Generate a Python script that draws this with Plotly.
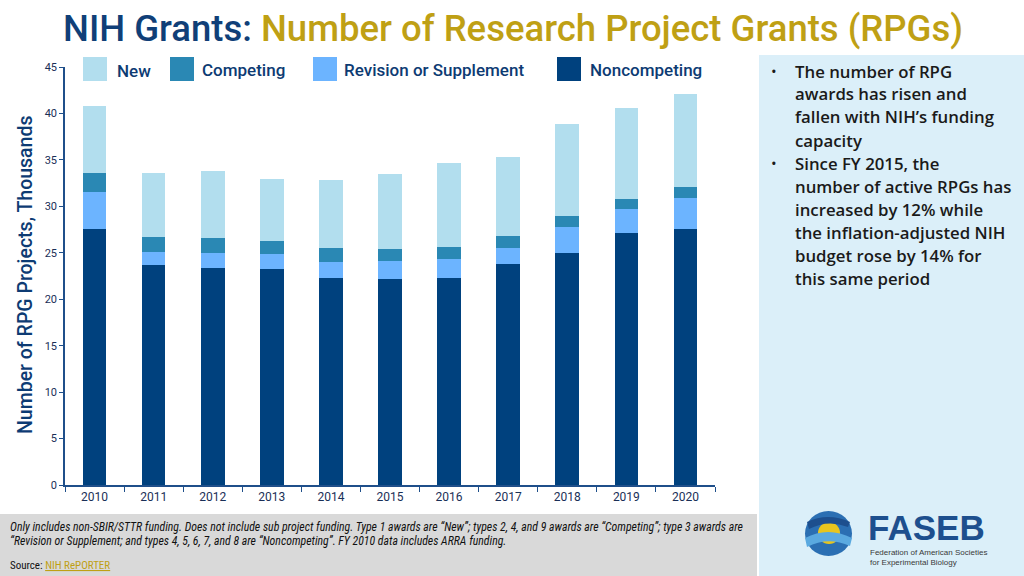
import plotly.graph_objects as go

years = ["2010", "2011", "2012", "2013", "2014", "2015", "2016", "2017", "2018", "2019", "2020"]
noncompeting = [27.6, 23.7, 23.4, 23.25, 22.25, 22.2, 22.3, 23.8, 25.0, 27.1, 27.6]
revision = [3.9, 1.4, 1.6, 1.65, 1.75, 1.9, 2.0, 1.75, 2.75, 2.65, 3.25]
competing = [2.1, 1.6, 1.6, 1.4, 1.5, 1.35, 1.35, 1.25, 1.2, 1.05, 1.25]
new = [7.2, 6.9, 7.2, 6.6, 7.3, 8.05, 9.0, 8.55, 9.9, 9.8, 10.0]

series_names = ["Noncompeting", "Revision or Supplement", "Competing", "New"]
series_vals = [noncompeting, revision, competing, new]
series_colors = ["#00417e", "#6cb4ff", "#2a88b4", "#b2deee"]

W, H = 1024, 576
L, R, T, B = 65, 715, 67, 485

def px(x):
    return (x - L) / (R - L)

def py(y):
    return (B - y) / (B - T)

fig = go.Figure()
for name, vals, col in zip(series_names, series_vals, series_colors):
    fig.add_trace(go.Bar(x=years, y=vals, name=name, marker=dict(color=col, line=dict(width=0)),
                         width=0.4, showlegend=False))

shapes = []
annotations = []

# right panel and footer
shapes.append(dict(type="rect", xref="paper", yref="paper", x0=px(759), x1=px(1030), y0=py(55), y1=py(580),
                   fillcolor="#dbeff9", line=dict(width=0), layer="below"))
shapes.append(dict(type="rect", xref="paper", yref="paper", x0=px(-5), x1=px(757), y0=py(514), y1=py(580),
                   fillcolor="#d9d9d9", line=dict(width=0), layer="below"))

# title
annotations.append(dict(xref="paper", yref="paper", x=px(61), y=py(28), xanchor="left", yanchor="middle",
                        showarrow=False,
                        text="<span style='color:#103f78'>NIH Grants:</span> <span style='color:#bfa014'>Number of Research Project Grants (RPGs)</span>",
                        font=dict(family="Roboto", size=36.5, weight=500)))

# legend (manual)
leg = [("New", "#b2deee", 83, 115), ("Competing", "#2a88b4", 170, 200),
       ("Revision or Supplement", "#6cb4ff", 313, 342), ("Noncompeting", "#00417e", 557, 588)]
for lab, col, x0, tx in leg:
    shapes.append(dict(type="rect", xref="paper", yref="paper", x0=px(x0), x1=px(x0 + 24), y0=py(81), y1=py(57),
                       fillcolor=col, line=dict(width=0)))
    annotations.append(dict(xref="paper", yref="paper", x=px(tx), y=py(71 if lab == "New" else 70),
                            xanchor="left", yanchor="middle", showarrow=False, text=lab,
                            font=dict(family="Roboto", size=17, weight=500, color="#0d3b73")))

# y-axis title
annotations.append(dict(xref="paper", yref="paper", x=px(25), y=py(275), xanchor="center", yanchor="middle",
                        showarrow=False, textangle=-90, text="Number of RPG Projects, Thousands",
                        font=dict(family="Roboto", size=19.5, weight=500, color="#0d3b73")))

# right text
lines = [("•", "The number of RPG"), ("", "awards has risen and"), ("", "fallen with NIH’s funding"),
         ("", "capacity"), ("•", "Since FY 2015, the"), ("", "number of active RPGs has"),
         ("", "increased by 12% while"), ("", "the inflation-adjusted NIH"),
         ("", "budget rose by 14% for"), ("", "this same period")]
for i, (b, t) in enumerate(lines):
    yy = 71 + 23 * i
    if b:
        annotations.append(dict(xref="paper", yref="paper", x=px(769), y=py(yy), xanchor="left", yanchor="middle",
                                showarrow=False, text=b, font=dict(family="Open Sans", size=15, color="#1a1a1a")))
    annotations.append(dict(xref="paper", yref="paper", x=px(793), y=py(yy), xanchor="left", yanchor="middle",
                            showarrow=False, text=t,
                            font=dict(family="Open Sans", size=16.8, weight=600, color="#1a1a1a")))

# footer text
ffam = "Roboto Condensed, Liberation Sans Narrow, Roboto"
foot1 = "Only includes non-SBIR/STTR funding. Does not include sub project funding. Type 1 awards are “New”; types 2, 4, and 9 awards are “Competing”; type 3 awards are"
foot2 = "“Revision or Supplement; and types 4, 5, 6, 7, and 8 are “Noncompeting”. FY 2010 data includes ARRA funding."
annotations.append(dict(xref="paper", yref="paper", x=px(8), y=py(527), xanchor="left", yanchor="middle",
                        showarrow=False, text="<i>" + foot1 + "</i>",
                        font=dict(family=ffam, size=11.8, color="#111111")))
annotations.append(dict(xref="paper", yref="paper", x=px(8), y=py(541), xanchor="left", yanchor="middle",
                        showarrow=False, text="<i>" + foot2 + "</i>",
                        font=dict(family=ffam, size=11.8, color="#111111")))
annotations.append(dict(xref="paper", yref="paper", x=px(8), y=py(565), xanchor="left", yanchor="middle",
                        showarrow=False,
                        text="Source: <span style='color:#bfa014'><u>NIH RePORTER</u></span>",
                        font=dict(family=ffam, size=11, color="#111111")))

# logo
shapes.append(dict(type="circle", xref="paper", yref="paper", x0=px(805), x1=px(852), y0=py(556), y1=py(511),
                   fillcolor="#2b6fb3", line=dict(width=0)))
shapes.append(dict(type="circle", xref="paper", yref="paper", x0=px(818), x1=px(840), y0=py(544), y1=py(522),
                   fillcolor="#e8c51e", line=dict(width=0)))
shapes.append(dict(type="path", xref="paper", yref="paper",
                   path=f"M {px(805)},{py(538)} Q {px(828)},{py(526)} {px(852)},{py(538)} L {px(850)},{py(546)} Q {px(828)},{py(536)} {px(807)},{py(547)} Z",
                   fillcolor="#5aa9e0", line=dict(width=0)))
shapes.append(dict(type="path", xref="paper", yref="paper",
                   path=f"M {px(807)},{py(522)} Q {px(828)},{py(512)} {px(850)},{py(522)} L {px(848)},{py(527)} Q {px(828)},{py(519)} {px(809)},{py(529)} Z",
                   fillcolor="#1d4f8e", line=dict(width=0)))
annotations.append(dict(xref="paper", yref="paper", x=px(866), y=py(527), xanchor="left", yanchor="middle",
                        showarrow=False, text="<b>FASEB</b>",
                        font=dict(family="Liberation Sans, Arial", size=35, color="#1d4f8e")))
annotations.append(dict(xref="paper", yref="paper", x=px(868), y=py(552), xanchor="left", yanchor="middle",
                        showarrow=False, text="Federation of American Societies",
                        font=dict(family="Liberation Sans, Arial", size=8, color="#3a3a3a")))
annotations.append(dict(xref="paper", yref="paper", x=px(868), y=py(562), xanchor="left", yanchor="middle",
                        showarrow=False, text="for Experimental Biology",
                        font=dict(family="Liberation Sans, Arial", size=8, color="#3a3a3a")))

fig.update_layout(
    width=W, height=H,
    margin=dict(l=L, r=W - R, t=T, b=H - B, pad=0),
    barmode="stack",
    paper_bgcolor="white", plot_bgcolor="white",
    bargap=0.6,
    shapes=shapes, annotations=annotations,
    xaxis=dict(type="category", showline=True, linecolor="#1f4f8a", linewidth=1.5, ticks="outside",
               tickson="boundaries", ticklen=5, tickcolor="#1f4f8a", showgrid=False,
               tickfont=dict(family="Roboto", size=12, color="#1a2f57")),
    yaxis=dict(range=[0, 45], dtick=5, showline=True, linecolor="#1f4f8a", linewidth=1.5, ticks="outside",
               ticklen=4, tickcolor="#1f4f8a", showgrid=False, zeroline=False,
               tickfont=dict(family="Roboto", size=11, color="#1a2f57")),
)

fig.write_html("out.html", config={"displayModeBar": False},
               post_script="document.body.style.margin='0';document.body.style.overflow='hidden';")
